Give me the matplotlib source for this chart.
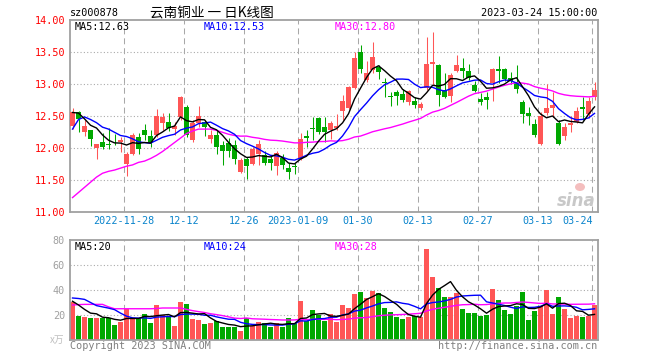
import matplotlib
matplotlib.use("Agg")
import matplotlib.pyplot as plt
from matplotlib.patches import Ellipse
import numpy as np
import pandas as pd

# ---------------- data ----------------
opens = [12.354, 12.57, 12.255, 12.286, 12.01, 12.104, 12.06, 12.145, 12.093, 11.755,
         11.911, 12.171, 12.286, 12.192, 12.213, 12.40, 12.406, 12.30, 12.494, 12.65,
         12.13, 12.39, 12.406, 12.14, 12.208, 12.052, 12.088, 12.052, 11.635, 11.828,
         11.755, 11.911, 11.89, 11.828, 11.724, 11.853, 11.697, 11.72, 11.832, 12.192,
         12.322, 12.468, 12.338, 12.286, 12.31, 12.582, 12.624, 12.937, 13.499, 13.067,
         13.223, 13.265, 13.04, 12.813, 12.875, 12.844, 12.719, 12.74, 12.635, 12.937,
         13.318, 13.302, 12.911, 12.823, 13.208, 13.25, 13.208, 12.99, 12.771, 12.807,
         13.015, 13.239, 13.234, 13.104, 13.015, 12.729, 12.557, 12.38, 12.067, 12.546,
         12.625, 12.4, 12.192, 12.364, 12.416, 12.65, 12.531, 12.807]
highs = [12.625, 12.58, 12.44, 12.29, 12.07, 12.244, 12.31, 12.23, 12.18, 11.95,
         12.244, 12.234, 12.38, 12.286, 12.614, 12.546, 12.557, 12.41, 12.82, 12.677,
         12.44, 12.66, 12.45, 12.286, 12.286, 12.12, 12.156, 12.13, 11.843, 11.87,
         12.026, 12.13, 11.963, 11.895, 11.963, 11.911, 11.765, 11.775, 12.234, 12.286,
         12.483, 12.483, 12.483, 12.431, 12.535, 12.83, 12.973, 13.51, 13.613, 13.369,
         13.666, 13.3, 13.093, 12.885, 12.911, 12.927, 12.911, 12.807, 12.729, 13.745,
         13.812, 13.312, 13.172, 13.172, 13.458, 13.406, 13.312, 13.052, 12.859, 12.885,
         13.25, 13.442, 13.25, 13.2, 13.302, 12.755, 12.64, 12.453, 12.572, 13.0,
         12.885, 12.442, 12.39, 12.505, 12.65, 12.807, 12.807, 13.04]
lows = [12.296, 12.25, 12.20, 12.036, 11.83, 11.984, 11.99, 12.05, 11.95, 11.567,
        11.90, 11.911, 12.13, 12.026, 12.182, 12.286, 12.275, 12.21, 12.45, 12.171,
        12.10, 12.34, 12.2, 12.088, 11.911, 11.74, 11.87, 11.755, 11.61, 11.515,
        11.74, 11.74, 11.74, 11.66, 11.583, 11.67, 11.52, 11.6, 11.817, 12.025,
        12.13, 12.223, 12.103, 12.14, 12.286, 12.442, 12.61, 12.92, 13.18, 13.04,
        13.171, 13.077, 12.806, 12.667, 12.677, 12.719, 12.677, 12.625, 12.599, 12.911,
        12.99, 12.667, 12.781, 12.729, 13.198, 13.094, 13.068, 12.885, 12.677, 12.615,
        12.745, 13.015, 13.057, 13.0, 12.87, 12.4, 12.364, 12.172, 12.052, 12.52,
        12.494, 12.052, 12.13, 12.26, 12.39, 12.442, 12.47, 12.76]
closes = [12.567, 12.46, 12.349, 12.145, 12.062, 12.026, 12.05, 12.14, 12.13, 11.911,
          12.208, 11.994, 12.213, 12.078, 12.505, 12.484, 12.322, 12.35, 12.796, 12.208,
          12.39, 12.505, 12.327, 12.208, 12.015, 11.958, 11.958, 11.828, 11.817, 11.724,
          11.994, 12.067, 11.776, 11.765, 11.932, 11.739, 11.634, 11.71, 12.145, 12.155,
          12.296, 12.249, 12.249, 12.39, 12.353, 12.744, 12.963, 13.405, 13.233, 13.181,
          13.431, 13.197, 13.025, 12.806, 12.823, 12.755, 12.896, 12.677, 12.693, 13.312,
          13.344, 12.833, 12.807, 13.146, 13.302, 13.208, 13.104, 12.896, 12.729, 12.755,
          13.239, 13.213, 13.083, 13.057, 12.921, 12.536, 12.51, 12.208, 12.505, 12.625,
          12.677, 12.067, 12.338, 12.39, 12.583, 12.609, 12.744, 12.911]
volumes = [30.7, 19.5, 18.7, 17.9, 17.9, 17.3, 17.3, 12.3, 14.4, 24.8,
           17.3, 17.3, 20.8, 13.6, 28.0, 20.0, 19.5, 11.5, 30.7, 28.8,
           16.8, 16.3, 12.8, 13.6, 14.9, 10.4, 10.4, 10.4, 7.2, 17.3,
           11.5, 14.4, 13.6, 10.4, 13.6, 10.4, 17.3, 13.6, 31.2, 15.5,
           24.0, 20.0, 15.5, 20.8, 14.4, 28.0, 25.3, 36.8, 38.4, 33.6,
           39.2, 37.3, 25.6, 22.4, 18.4, 16.8, 18.4, 19.2, 18.4, 72.8,
           50.4, 41.6, 34.4, 34.4, 37.6, 24.8, 21.6, 21.6, 19.2, 20.0,
           40.8, 32.0, 24.0, 20.8, 27.2, 38.4, 16.0, 23.2, 27.2, 40.0,
           20.8, 34.4, 24.8, 17.6, 19.2, 18.4, 19.2, 28.0]

# moving-average values at the start of the window (history before the first candle)
ma5_head = [12.56, 12.55, 12.46, 12.36]
ma10_head = [12.30, 12.45, 12.49, 12.45, 12.40, 12.33, 12.30, 12.25, 12.20]
ma30_head = [11.23, 11.31, 11.39, 11.47, 11.55, 11.61, 11.64, 11.66, 11.69, 11.72,
             11.74, 11.78, 11.80, 11.84, 11.89, 11.95, 12.02, 12.09, 12.16, 12.23,
             12.27, 12.30, 12.30, 12.30, 12.28, 12.25, 12.22, 12.20, 12.19]
vma5_head = [31.0, 28.0, 24.5, 21.5]
vma10_head = [33.6, 33.2, 32.5, 30.0, 27.5, 26.5, 25.5, 24.3, 21.5]
vma30_head = [28.0, 28.3, 28.5, 28.5, 28.5, 28.5, 26.5, 25.0, 25.0, 25.0,
              25.0, 25.0, 25.0, 25.0, 25.2, 25.6, 25.6, 25.6, 25.6, 24.5,
              23.5, 22.7, 22.0, 21.0, 20.3, 19.5, 18.5, 17.5, 17.2]

date_labels = ['2022-11-28', '12-12', '12-26', '2023-01-09', '01-30',
               '02-13', '02-27', '03-13', '03-24']
date_idx = [9, 19, 29, 38, 48, 58, 68, 78, 87]
price_ticks = [11.0, 11.5, 12.0, 12.5, 13.0, 13.5, 14.0]
vol_ticks = [20, 40, 60, 80]

title_code = 'sz000878'
title_name = '云南铜业 一 日K线图'
stamp = '2023-03-24 15:00:00'
ma_labels = ['MA5:12.63', 'MA10:12.53', 'MA30:12.80']
vma_labels = ['MA5:20', 'MA10:24', 'MA30:28']

# ---------------- styling ----------------
W, H = 660, 360
RED = '#FF5656'
GREEN = '#00A800'
C_MA5, C_MA10, C_MA30 = '#000000', '#0000FF', '#FF00FF'
BORDER = '#A0A0A0'
MONO = 'DejaVu Sans Mono'
CJK = ['Noto Sans CJK SC', 'DejaVu Sans']


def ma(vals, n, head):
    r = pd.Series(vals, dtype=float).rolling(n).mean().to_numpy()
    r[:len(head)] = head
    return r


n = len(closes)
x = np.arange(n)
o = np.array(opens); c = np.array(closes)
hi = np.array(highs); lo = np.array(lows)
up = c >= o
colors = np.where(up, RED, GREEN)

fig = plt.figure(figsize=(W / 100, H / 100), dpi=100)
fig.patch.set_facecolor('white')


def fx(px):
    return px / W


def fy(py):
    return 1 - py / H


L, R = 70, 598
ax = fig.add_axes([fx(L), fy(212.3), fx(R - L), (212.3 - 20.3) / H])
axv = fig.add_axes([fx(L), fy(340), fx(R - L), 100 / H])

XL = (-0.42, n - 0.42)

for a in (ax, axv):
    a.set_xlim(*XL)
    a.set_xticks([])
    for s in a.spines.values():
        s.set_color(BORDER)
        s.set_linewidth(1.3)
    a.tick_params(axis='y', length=0, pad=3.6)
    for i in date_idx:
        a.axvline(i - 0.4, color='#A8A8A8', lw=0.75, dashes=(5.7, 3.8), zorder=0)

# price panel
ax.set_ylim(11.0, 14.0)
ax.set_yticks(price_ticks)
ax.set_yticklabels([f'{t:.2f}' for t in price_ticks], fontfamily=MONO,
                   fontsize=7.3, color='#FF0000')
for t in price_ticks[1:-1]:
    ax.axhline(t, color='#AAAAAA', lw=0.8, ls=(0, (1, 2)), zorder=0)

ax.vlines(x, lo, hi, colors=colors, lw=0.75, zorder=2)
body_bot = np.minimum(o, c)
body_h = np.maximum(np.abs(c - o), 0.012)
ax.bar(x, body_h, bottom=body_bot, width=0.8, color=colors, lw=0, zorder=3)

ax.plot(x, ma(closes, 30, ma30_head), color=C_MA30, lw=1.0, zorder=4)
ax.plot(x, ma(closes, 10, ma10_head), color=C_MA10, lw=1.0, zorder=4)
ax.plot(x, ma(closes, 5, ma5_head), color=C_MA5, lw=1.0, zorder=4)

# volume panel
axv.set_ylim(0, 80)
axv.set_yticks(vol_ticks)
axv.set_yticklabels([str(t) for t in vol_ticks], fontfamily=MONO,
                    fontsize=7.3, color='#A0A0A0')
for t in vol_ticks[:-1]:
    axv.axhline(t, color='#AAAAAA', lw=0.8, ls=(0, (1, 2)), zorder=0)
axv.bar(x, volumes, width=0.8, color=colors, lw=0, zorder=2)
axv.plot(x, ma(volumes, 30, vma30_head), color=C_MA30, lw=1.0, zorder=4)
axv.plot(x, ma(volumes, 10, vma10_head), color=C_MA10, lw=1.0, zorder=4)
axv.plot(x, ma(volumes, 5, vma5_head), color=C_MA5, lw=1.0, zorder=4)

# date labels
for lab, i in zip(date_labels, date_idx):
    xp = L + (i - 0.4 - XL[0]) * (R - L) / (XL[1] - XL[0])
    if i == date_idx[-1]:
        fig.text(fx(xp + 1), fy(221.5), lab, ha='right', va='center',
                 fontfamily=MONO, fontsize=7.3, color='#0A84CC')
    else:
        fig.text(fx(xp), fy(221.5), lab, ha='center', va='center',
                 fontfamily=MONO, fontsize=7.3, color='#0A84CC')

# titles
fig.text(fx(70), fy(13), title_code, ha='left', va='center', fontfamily=MONO,
         fontsize=7.3, color='black')
fig.text(fx(150), fy(13), title_name, ha='left', va='center', family=CJK,
         fontsize=9.8, color='black')
fig.text(fx(597), fy(13), stamp, ha='right', va='center', fontfamily=MONO,
         fontsize=7.3, color='black')

# MA legends
for lab, xp, col in zip(ma_labels, [75, 204, 335], [C_MA5, C_MA10, C_MA30]):
    fig.text(fx(xp), fy(26.5), lab, ha='left', va='center', fontfamily=MONO,
             fontsize=7.3, color=col)
for lab, xp, col in zip(vma_labels, [75, 204, 335], [C_MA5, C_MA10, C_MA30]):
    fig.text(fx(xp), fy(246.5), lab, ha='left', va='center', fontfamily=MONO,
             fontsize=7.3, color=col)

# volume unit
fig.text(fx(57), fy(340), 'x万', ha='center', va='center', family=CJK,
         fontsize=7, color='#C0C0C0')

# footer
fig.text(fx(70), fy(346), 'Copyright 2023 SINA.COM', ha='left', va='center',
         fontfamily=MONO, fontsize=7.3, color='#808080')
fig.text(fx(597), fy(346), 'http://finance.sina.com.cn', ha='right', va='center',
         fontfamily=MONO, fontsize=7.3, color='#808080')

# sina watermark
fig.text(fx(596), fy(201), 'sina', ha='right', va='center', fontsize=12,
         fontweight='bold', fontstyle='italic', color='#C8C8C8')
fig.patches.append(Ellipse((fx(580), fy(187)), 10 / W, 8 / H,
                           transform=fig.transFigure, facecolor='#F4BEBE',
                           edgecolor='none', zorder=1))

fig.savefig('out.png', dpi=100)
